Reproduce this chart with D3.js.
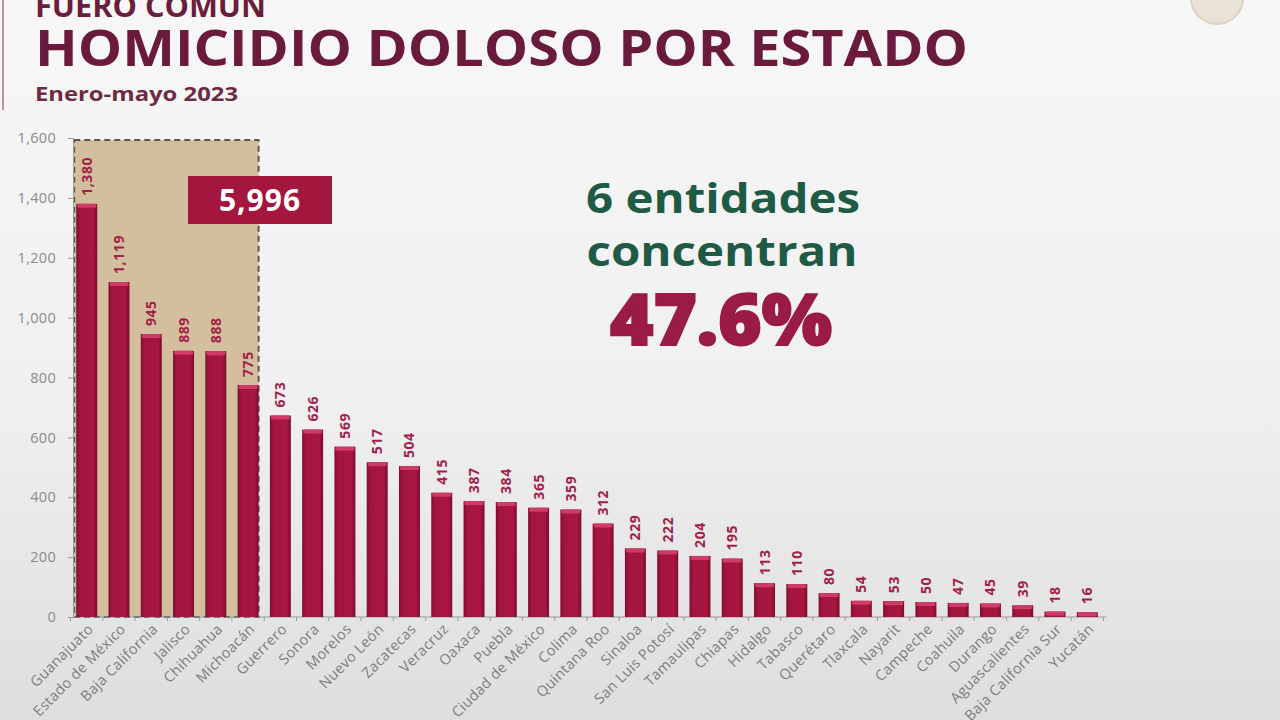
<!DOCTYPE html>
<html lang="es">
<head>
<meta charset="utf-8">
<title>Homicidio doloso por estado</title>
<script src="https://d3js.org/d3.v7.min.js"></script>
<style>
  html, body { margin: 0; padding: 0; }
  body { width: 1280px; height: 720px; overflow: hidden; }
  svg { font-family: "Open Sans", "DejaVu Sans", sans-serif; display: block; }
</style>
</head>
<body>
<svg id="chart" width="1280" height="720"></svg>
<script>
// data
const estados = ["Guanajuato", "Estado de México", "Baja California", "Jalisco", "Chihuahua", "Michoacán",
  "Guerrero", "Sonora", "Morelos", "Nuevo León", "Zacatecas", "Veracruz", "Oaxaca", "Puebla",
  "Ciudad de México", "Colima", "Quintana Roo", "Sinaloa", "San Luis Potosí", "Tamaulipas", "Chiapas",
  "Hidalgo", "Tabasco", "Querétaro", "Tlaxcala", "Nayarit", "Campeche", "Coahuila", "Durango",
  "Aguascalientes", "Baja California Sur", "Yucatán"];
const homicidios = [1380, 1119, 945, 889, 888, 775, 673, 626, 569, 517, 504, 415, 387, 384,
  365, 359, 312, 229, 222, 204, 195, 113, 110, 80, 54, 53, 50, 47, 45, 39, 18, 16];
const yTicks = [0, 200, 400, 600, 800, 1000, 1200, 1400, 1600];
const destacados = 6;          // first six states highlighted
const totalDestacado = "5,996";
const porcentaje = "47.6%";

const svg = d3.select("#chart");
const defs = svg.append("defs");

// background
const bg = defs.append("linearGradient").attr("id", "bg").attr("x1", 0).attr("y1", 0).attr("x2", 0).attr("y2", 1);
bg.append("stop").attr("offset", "0%").attr("stop-color", "#f8f7f7");
bg.append("stop").attr("offset", "55%").attr("stop-color", "#f1f0f0");
bg.append("stop").attr("offset", "100%").attr("stop-color", "#dedede");
svg.append("rect").attr("width", 1280).attr("height", 720).attr("fill", "url(#bg)");

// bar shading
const barGrad = defs.append("linearGradient").attr("id", "barGrad").attr("x1", 0).attr("x2", 1).attr("y1", 0).attr("y2", 0);
barGrad.append("stop").attr("offset", "0%").attr("stop-color", "#7e0d30");
barGrad.append("stop").attr("offset", "18%").attr("stop-color", "#a3153f");
barGrad.append("stop").attr("offset", "80%").attr("stop-color", "#a8173f");
barGrad.append("stop").attr("offset", "100%").attr("stop-color", "#7a0c2e");

// side line + logo hint
svg.append("line").attr("x1", 3).attr("x2", 3).attr("y1", 0).attr("y2", 110)
  .attr("stroke", "#8a3a55").attr("stroke-width", 1.5).attr("opacity", 0.7);
svg.append("circle").attr("cx", 1217).attr("cy", -2).attr("r", 26)
  .attr("fill", "#e6ddd0").attr("stroke", "#d6cab6").attr("stroke-width", 2).attr("opacity", 0.8);

// titles
svg.append("text").attr("x", 35).attr("y", 17).attr("fill", "#6b1d3c")
  .attr("font-size", 30).attr("font-weight", "bold")
  .attr("textLength", 231).attr("lengthAdjust", "spacingAndGlyphs").text("FUERO COMÚN");
svg.append("text").attr("x", 35).attr("y", 66).attr("fill", "#6a1a3a")
  .attr("font-size", 50).attr("font-weight", "bold")
  .attr("textLength", 933).attr("lengthAdjust", "spacingAndGlyphs").text("HOMICIDIO DOLOSO POR ESTADO");
svg.append("text").attr("x", 35).attr("y", 101).attr("fill", "#6b2b42")
  .attr("font-size", 20).attr("font-weight", "bold")
  .attr("textLength", 203).attr("lengthAdjust", "spacingAndGlyphs").text("Enero-mayo 2023");

// scales
const x = d3.scaleBand().domain(estados).range([73, 1101]).paddingInner(0.35).paddingOuter(0.1);
const y = d3.scaleLinear().domain([0, 1600]).range([617, 138]);

// highlight box behind first six bars
const boxX0 = x(estados[0]) - 2;
const boxX1 = x(estados[destacados - 1]) + x.bandwidth();
svg.append("rect")
  .attr("x", boxX0).attr("y", y(1600) + 2)
  .attr("width", boxX1 - boxX0).attr("height", y(0) - y(1600) - 2)
  .attr("fill", "#d3bf9e")
  .attr("stroke", "#5d5848").attr("stroke-width", 2).attr("stroke-dasharray", "6,4");

// y axis
const yAxis = svg.append("g").attr("transform", "translate(73,0)")
  .call(d3.axisLeft(y).tickValues(yTicks).tickSize(5).tickPadding(12).tickFormat(d3.format(",")));
yAxis.select(".domain").attr("stroke", "#9a9a9a");
yAxis.selectAll(".tick line").attr("stroke", "#9a9a9a");
yAxis.selectAll(".tick text").attr("fill", "#8a8a8a").attr("font-size", 14.5)
  .attr("font-family", "Open Sans").attr("letter-spacing", 0.3);

// x axis
const xAxis = svg.append("g").attr("transform", `translate(0,${y(0)})`)
  .call(d3.axisBottom(x).tickSize(0).tickPadding(0).tickSizeOuter(0));
xAxis.select(".domain").attr("stroke", "#9a9a9a").attr("d", `M73,0H1106`);
xAxis.selectAll(".tick text")
  .attr("fill", "#7d7d7d").attr("font-size", 14.5).attr("font-family", "Open Sans")
  .attr("letter-spacing", 0.3)
  .attr("text-anchor", "end").attr("dy", 0)
  .attr("transform", `translate(${x.bandwidth() / 2 - 3},13) rotate(-45)`);
// boundary ticks between bands
const half = x.step() * x.paddingInner() / 2;
svg.append("g").selectAll("line")
  .data(estados.concat(["__end"]))
  .join("line")
  .attr("x1", (d, i) => i < estados.length ? x(d) - half : x(estados[i - 1]) + x.bandwidth() + half)
  .attr("x2", (d, i) => i < estados.length ? x(d) - half : x(estados[i - 1]) + x.bandwidth() + half)
  .attr("y1", y(0)).attr("y2", y(0) + 4)
  .attr("stroke", "#9a9a9a");

// bars
const bars = svg.append("g").selectAll("g")
  .data(estados.map((e, i) => ({ estado: e, valor: homicidios[i] })))
  .join("g");
bars.append("rect")
  .attr("x", d => x(d.estado)).attr("y", d => y(d.valor))
  .attr("width", x.bandwidth()).attr("height", d => y(0) - y(d.valor))
  .attr("fill", "url(#barGrad)");
bars.append("rect")
  .attr("x", d => x(d.estado) + 1).attr("y", d => y(d.valor))
  .attr("width", x.bandwidth() - 2).attr("height", 4).attr("rx", 1.5)
  .attr("fill", "#cf3a66");

// value labels, rotated
bars.append("text")
  .attr("transform", d => `translate(${x(d.estado) + x.bandwidth() / 2 + 5},${y(d.valor) - 8}) rotate(-90)`)
  .attr("fill", "#a21f4a").attr("font-size", 14).attr("font-weight", "bold")
  .attr("letter-spacing", 0.6)
  .text(d => d3.format(",")(d.valor));

// 5,996 label box
svg.append("rect").attr("x", 188).attr("y", 176).attr("width", 144).attr("height", 48)
  .attr("fill", "#a3173f");
svg.append("text").attr("x", 260).attr("y", 211).attr("text-anchor", "middle")
  .attr("fill", "#ffffff").attr("font-size", 30).attr("font-weight", "bold")
  .attr("letter-spacing", 1).text(totalDestacado);

// annotation
svg.append("text").attr("x", 723).attr("y", 213).attr("text-anchor", "middle")
  .attr("fill", "#1f5b44").attr("font-size", 42).attr("font-weight", "bold")
  .attr("textLength", 274).attr("lengthAdjust", "spacingAndGlyphs").text("6 entidades");
svg.append("text").attr("x", 722).attr("y", 266).attr("text-anchor", "middle")
  .attr("fill", "#1f5b44").attr("font-size", 42).attr("font-weight", "bold")
  .attr("textLength", 271).attr("lengthAdjust", "spacingAndGlyphs").text("concentran");
svg.append("text").attr("x", 721).attr("y", 345).attr("text-anchor", "middle")
  .attr("fill", "#9a1a48").attr("font-size", 70).attr("font-weight", "900")
  .attr("stroke", "#9a1a48").attr("stroke-width", 2)
  .attr("textLength", 222).attr("lengthAdjust", "spacingAndGlyphs").text(porcentaje);
</script>
</body>
</html>
